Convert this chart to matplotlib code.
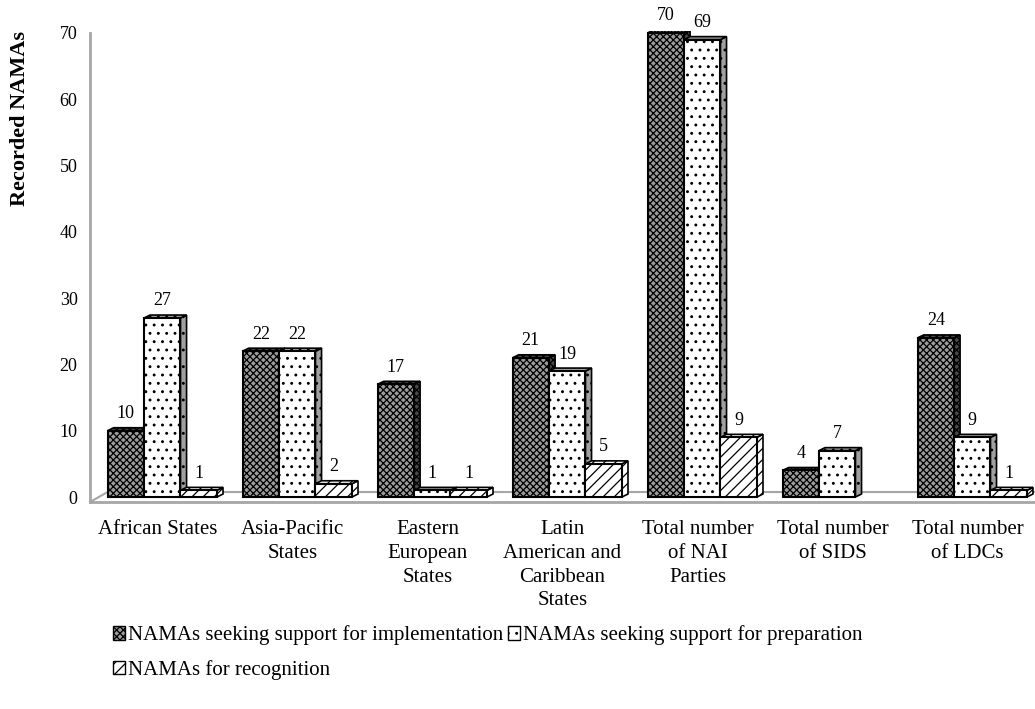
import matplotlib
matplotlib.use('Agg')
import matplotlib.pyplot as plt
from matplotlib.patches import Polygon, Patch
import numpy as np

# data
categories = ['African States', 'Asia-Pacific\nStates', 'Eastern\nEuropean\nStates',
              'Latin\nAmerican and\nCaribbean\nStates', 'Total number\nof NAI\nParties',
              'Total number\nof SIDS', 'Total number\nof LDCs']
implementation = [10, 22, 17, 21, 70, 4, 24]
preparation = [27, 22, 1, 19, 69, 7, 9]
recognition = [1, 2, 1, 5, 9, 0, 1]
series_names = ['NAMAs seeking support for implementation',
                'NAMAs seeking support for preparation',
                'NAMAs for recognition']

plt.rcParams['font.family'] = ['Liberation Serif', 'DejaVu Serif']
plt.rcParams['hatch.linewidth'] = 0.9

fig = plt.figure(figsize=(10.35, 7.09), dpi=100)
ax = fig.add_axes([0.087, 0.292, 0.913, 0.6643])

x = np.arange(len(categories))
width = 0.27
offsets = [-0.235, 0.035, 0.305]
dx, dy = 0.045, 0.45  # depth of the fake 3d bars

styles = [
    dict(face='#9c9c9c', side='#4a4a4a', hatch='xxxxx'),
    dict(face='white', side='#a0a0a0', hatch='..'),
    dict(face='white', side='white', hatch='///'),
]
series = [implementation, preparation, recognition]

for i in range(len(categories)):
    for s, vals in enumerate(series):
        h = vals[i]
        if h == 0:
            continue
        st = styles[s]
        xc = x[i] + offsets[s]
        x0, x1 = xc - width / 2, xc + width / 2
        side = Polygon([(x1, 0), (x1 + dx, dy), (x1 + dx, h + dy), (x1, h)],
                       closed=True, facecolor=st['side'], edgecolor='black',
                       lw=1.2, hatch=st['hatch'], zorder=2)
        top = Polygon([(x0, h), (x0 + dx, h + dy), (x1 + dx, h + dy), (x1, h)],
                      closed=True, facecolor=st['side'], edgecolor='black',
                      lw=1.2, hatch=st['hatch'], zorder=2)
        ax.add_patch(side)
        ax.add_patch(top)
        ax.bar(xc, h, width, color=st['face'], edgecolor='black', lw=1.5,
               hatch=st['hatch'], zorder=3)
        ax.annotate(str(h), (xc, h + dy), xytext=(0, 4), textcoords='offset points',
                    ha='center', va='bottom', fontsize=13, annotation_clip=False)

# floor of the 3d chart
ax.plot([-0.5, 6.5], [-0.75, -0.75], color='#a6a6a6', lw=2, zorder=1, clip_on=False)
ax.plot([-0.5, -0.37, 6.5], [-0.75, 0.75, 0.75], color='#a6a6a6', lw=1.5,
        zorder=1, clip_on=False)
ax.plot([-0.5, -0.5], [-0.75, 70], color='#a6a6a6', lw=2, zorder=1, clip_on=False)

ax.set_xlim(-0.5, 6.5)
ax.set_ylim(-0.75, 70.3)
ax.set_yticks(range(0, 71, 10))
ax.set_xticks(x)
ax.set_xticklabels(categories, fontsize=15, linespacing=1.34)
ax.tick_params(axis='x', length=0, pad=13)
ax.tick_params(axis='y', length=0, pad=9, labelsize=13)
for sp in ax.spines.values():
    sp.set_visible(False)

ax.set_ylabel('Recorded NAMAs', fontsize=16, fontweight='bold')
ax.yaxis.set_label_coords(-0.064, 0.815)

# legend fills column-wise, so order the handles to read row by row
order = [0, 2, 1]
handles = [Patch(facecolor=styles[k]['face'], edgecolor='black',
                 hatch=styles[k]['hatch'], lw=1) for k in order]
labels = [series_names[k] for k in order]
fig.legend(handles, labels, loc='upper left', bbox_to_anchor=(0.109, 0.118),
           ncol=2, frameon=False, prop={'family': 'Liberation Serif', 'size': 15},
           borderpad=0, borderaxespad=0,
           handlelength=0.6, handleheight=0.6, handletextpad=0.15,
           columnspacing=0.2, labelspacing=0.7)

fig.savefig('out.png', dpi=100)
